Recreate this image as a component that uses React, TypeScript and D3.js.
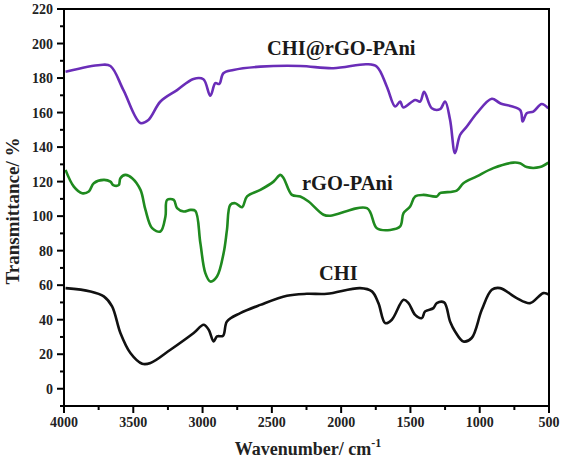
import React from "react";
import * as d3 from "d3";

const chiRgoWave = [3989, 3737, 3665, 3571, 3449, 3391, 3304, 3184, 3066, 2994, 2944, 2908, 2879, 2850, 2778, 2583, 2295, 2057, 1814, 1742, 1670, 1610, 1574, 1552, 1466, 1430, 1401, 1346, 1286, 1250, 1214, 1178, 1142, 1093, 1021, 913, 853, 709, 690, 661, 613, 553, 505];
const chiRgoVal = [183.7, 187.6, 187, 173, 154, 155.7, 166.4, 173, 179.5, 179.3, 169.7, 177, 176.6, 182.8, 184.7, 186.6, 187, 185.7, 188, 186.6, 175, 163.5, 166.4, 163, 167.3, 166.4, 172, 162.5, 162, 166.4, 155.8, 136.5, 147, 151.9, 159.6, 168, 165.4, 161.5, 154.8, 159.6, 160.6, 165, 162.5];

const rgoWave = [3989, 3929, 3869, 3821, 3785, 3713, 3665, 3645, 3605, 3593, 3557, 3508, 3448, 3412, 3364, 3304, 3268, 3256, 3208, 3184, 3136, 3088, 3052, 3016, 2980, 2944, 2896, 2848, 2824, 2800, 2764, 2715, 2679, 2583, 2488, 2439, 2415, 2355, 2295, 2235, 2127, 2079, 1814, 1742, 1646, 1574, 1550, 1502, 1466, 1406, 1310, 1286, 1166, 1118, 1021, 902, 757, 709, 661, 565, 505];
const rgoVal = [126.8, 117.1, 113.3, 114.3, 119.1, 121, 120, 118, 118, 122, 123.9, 122, 115.2, 103.6, 93, 91.1, 99.8, 109.4, 109.4, 104.6, 102.7, 103.6, 103, 84.4, 67, 62.1, 65, 78.6, 92, 106.5, 107.5, 105.2, 111.4, 115.2, 120, 123.9, 122, 112.3, 111.4, 108.5, 100.8, 100.2, 104.6, 93, 92, 94, 101.7, 105.6, 111.4, 112.3, 111.4, 113.3, 114.8, 119.1, 123, 127.8, 131, 130.6, 128.4, 128.4, 131];

const chiWave = [3989, 3809, 3713, 3653, 3593, 3521, 3436, 3376, 3232, 3064, 2992, 2956, 2920, 2896, 2852, 2824, 2728, 2583, 2391, 2247, 2102, 1863, 1778, 1731, 1682, 1634, 1550, 1514, 1466, 1418, 1394, 1334, 1310, 1257, 1214, 1178, 1118, 1058, 985, 913, 853, 733, 637, 541, 498];
const chiVal = [58.3, 56.4, 53.5, 47.7, 32.3, 20.7, 14.5, 14.9, 22.6, 32.3, 37.1, 34.2, 27.4, 30.3, 30.7, 39, 43.8, 48.6, 53.9, 55, 55, 58.3, 56.4, 49.6, 38, 40, 51.5, 49.6, 42.8, 40.9, 44.8, 46.7, 49.6, 50, 39, 33.2, 27.4, 29.4, 45.7, 57.3, 58.3, 52.5, 49.6, 55.4, 54.4];

const seriesNames = ["CHI@rGO-PAni", "rGO-PAni", "CHI"];
const xTicks = [4000, 3500, 3000, 2500, 2000, 1500, 1000, 500];
const yTicks = [0, 20, 40, 60, 80, 100, 120, 140, 160, 180, 200, 220];

const W = 566, H = 464;
const left = 64, right = 549, top = 9, bottom = 406;

export default function App() {
  const x = d3.scaleLinear().domain([4000, 500]).range([left, right]);
  const y = d3.scaleLinear().domain([-10, 220]).range([bottom, top]);
  const line = d3
    .line<[number, number]>()
    .x((d) => x(d[0]))
    .y((d) => y(d[1]))
    .curve(d3.curveCatmullRom.alpha(0.5));
  const series = [
    { w: chiRgoWave, v: chiRgoVal, color: "#6a2db8" },
    { w: rgoWave, v: rgoVal, color: "#1f8a1f" },
    { w: chiWave, v: chiVal, color: "#111111" },
  ];
  const font = "'Liberation Serif', 'Times New Roman', serif";
  const xMinor = d3.range(3750, 500, -500);
  const yMinor = d3.range(-10, 221, 20);
  return (
    <svg width={W} height={H} style={{ position: "absolute", left: 0, top: 0, background: "#fff" }} fontFamily={font}>
      <rect x={0} y={0} width={W} height={H} fill="#fff" />
      {series.map((s, i) => (
        <path
          key={i}
          d={line(s.w.map((w, j) => [w, s.v[j]] as [number, number])) || ""}
          fill="none"
          stroke={s.color}
          strokeWidth={2.6}
          strokeLinejoin="round"
        />
      ))}
      {/* frame */}
      <rect x={left} y={top} width={right - left} height={bottom - top} fill="none" stroke="#000" strokeWidth={2} />
      {/* x ticks */}
      {xTicks.map((t) => (
        <g key={"xt" + t}>
          <line x1={x(t)} x2={x(t)} y1={bottom} y2={bottom + 7} stroke="#000" strokeWidth={2} />
          <text x={x(t)} y={427} textAnchor="middle" fontSize={14} fontWeight="bold" fill="#222">
            {t}
          </text>
        </g>
      ))}
      {xMinor.map((t) => (
        <line key={"xm" + t} x1={x(t)} x2={x(t)} y1={bottom} y2={bottom + 4} stroke="#000" strokeWidth={2} />
      ))}
      {yTicks.map((t) => (
        <g key={"yt" + t}>
          <line x1={left} x2={left - 7} y1={y(t)} y2={y(t)} stroke="#000" strokeWidth={2} />
          <text x={53} y={y(t) + 5} textAnchor="end" fontSize={14} fontWeight="bold" fill="#222">
            {t}
          </text>
        </g>
      ))}
      {yMinor.map((t) => (
        <line key={"ym" + t} x1={left} x2={left - 4} y1={y(t)} y2={y(t)} stroke="#000" strokeWidth={2} />
      ))}
      {/* axis titles */}
      <text x={308} y={455} textAnchor="middle" fontSize={18} fontWeight="bold" fill="#222">
        Wavenumber/ cm<tspan dy={-8} fontSize={12}>-1</tspan>
      </text>
      <text transform="translate(19,211) rotate(-90)" textAnchor="middle" fontSize={19} fontWeight="bold" fill="#222">
        Transmittance/ %
      </text>
      {/* series labels */}
      <text x={267} y={55} fontSize={20.5} fontWeight="bold" fill="#1a1a1a">{seriesNames[0]}</text>
      <text x={302} y={190} fontSize={20.5} fontWeight="bold" fill="#1a1a1a">{seriesNames[1]}</text>
      <text x={319} y={280} fontSize={20.5} fontWeight="bold" fill="#1a1a1a">{seriesNames[2]}</text>
    </svg>
  );
}
